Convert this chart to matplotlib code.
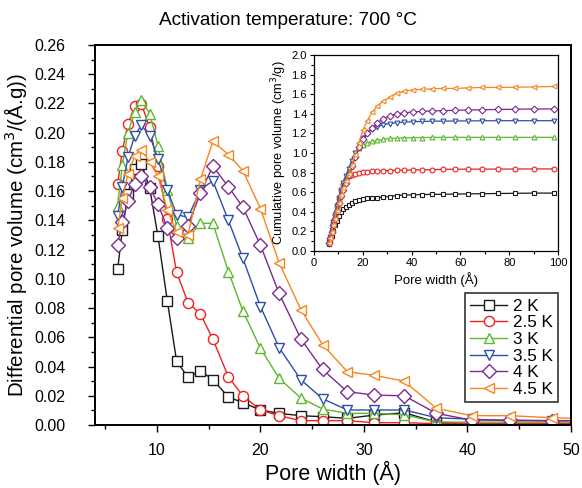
import matplotlib
matplotlib.use("Agg")
import matplotlib.pyplot as plt
from matplotlib.ticker import MultipleLocator

plt.rcParams['font.family'] = ['Liberation Sans', 'DejaVu Sans']

# pore width grid (A)
width = [6.2, 6.65, 7.2, 7.85, 8.5, 9.3, 10.1, 11.0, 11.9, 13.0, 14.2, 15.4, 16.9, 18.3,
         20.0, 21.8, 23.9, 26.0, 28.4, 31.0, 33.9, 37.0, 40.4, 44.1, 48.2, 52.7, 57.7,
         63.1, 69.0, 75.2, 82.4, 90.0, 98.4]

labels = ["2 K", "2.5 K", "3 K", "3.5 K", "4 K", "4.5 K"]
colors = ["#1a1a1a", "#f02020", "#5cb82e", "#2e4fa8", "#7d2a90", "#f7851e"]
markers = ["s", "o", "^", "v", "D", "<"]

# differential pore volume (cm3/(A.g)), main plot
dv_2k = [0.1065, 0.1334, 0.158, 0.175, 0.1786, 0.162, 0.129, 0.085, 0.0436, 0.0326, 0.0372,
         0.031, 0.0192, 0.0153, 0.0103, 0.008, 0.0064, 0.0057, 0.0046, 0.0068, 0.0084,
         0.002, 0.001, 0.001, 0.001, 0.001]
dv_25k = [0.165, 0.1875, 0.206, 0.218, 0.2194, 0.2037, 0.177, 0.1407, 0.1045, 0.0837, 0.076,
          0.0588, 0.033, 0.020, 0.0103, 0.0064, 0.003, 0.003, 0.003, 0.0016, 0.0016,
          0.001, 0.001, 0.001, 0.001, 0.001]
dv_3k = [0.150, 0.178, 0.200, 0.214, 0.222, 0.213, 0.191, 0.161, 0.136, 0.128, 0.138,
         0.138, 0.105, 0.078, 0.0525, 0.032, 0.0185, 0.011, 0.008, 0.008, 0.007,
         0.002, 0.002, 0.002, 0.002, 0.002]
dv_35k = [0.143, 0.163, 0.183, 0.198, 0.205, 0.198, 0.182, 0.161, 0.144, 0.142, 0.161,
          0.167, 0.140, 0.114, 0.081, 0.053, 0.031, 0.018, 0.0103, 0.0103, 0.0103,
          0.005, 0.004, 0.003, 0.003, 0.003]
dv_4k = [0.123, 0.139, 0.153, 0.165, 0.170, 0.163, 0.151, 0.135, 0.128, 0.136, 0.159,
         0.177, 0.163, 0.149, 0.123, 0.090, 0.059, 0.038, 0.0228, 0.0205, 0.020,
         0.008, 0.0034, 0.0034, 0.003, 0.003]
dv_45k = [0.1345, 0.155, 0.172, 0.184, 0.188, 0.180, 0.170, 0.147, 0.132, 0.130, 0.168,
          0.194, 0.185, 0.174, 0.148, 0.111, 0.079, 0.055, 0.0365, 0.034, 0.030,
          0.0114, 0.0064, 0.0064, 0.005, 0.004]

# cumulative pore volume (cm3/g), inset
cv_2k = [0.065, 0.10, 0.15, 0.20, 0.26, 0.31, 0.36, 0.40, 0.43, 0.45, 0.47, 0.49, 0.505,
         0.515, 0.525, 0.535, 0.54, 0.545, 0.55, 0.555, 0.565, 0.57, 0.572, 0.575, 0.577,
         0.578, 0.58, 0.582, 0.584, 0.586, 0.588, 0.59, 0.59]
cv_25k = [0.08, 0.13, 0.20, 0.28, 0.37, 0.46, 0.54, 0.62, 0.68, 0.73, 0.76, 0.78, 0.79,
          0.80, 0.805, 0.81, 0.815, 0.815, 0.82, 0.82, 0.825, 0.825, 0.827, 0.828, 0.83,
          0.833, 0.834, 0.835, 0.835, 0.836, 0.836, 0.837, 0.837]
cv_3k = [0.09, 0.14, 0.21, 0.29, 0.37, 0.46, 0.54, 0.62, 0.69, 0.76, 0.84, 0.91, 0.99,
         1.05, 1.08, 1.10, 1.12, 1.13, 1.14, 1.15, 1.15, 1.155, 1.157, 1.158, 1.16,
         1.16, 1.16, 1.16, 1.16, 1.16, 1.16, 1.16, 1.16]
cv_35k = [0.09, 0.14, 0.21, 0.29, 0.37, 0.46, 0.54, 0.62, 0.69, 0.76, 0.84, 0.92, 1.00,
          1.08, 1.15, 1.20, 1.25, 1.27, 1.29, 1.30, 1.31, 1.315, 1.32, 1.322, 1.325,
          1.326, 1.327, 1.328, 1.329, 1.33, 1.33, 1.33, 1.33]
cv_4k = [0.08, 0.13, 0.19, 0.26, 0.33, 0.41, 0.49, 0.56, 0.62, 0.69, 0.78, 0.87, 0.96,
         1.06, 1.14, 1.20, 1.26, 1.31, 1.35, 1.38, 1.40, 1.41, 1.42, 1.425, 1.43,
         1.433, 1.436, 1.44, 1.442, 1.445, 1.447, 1.45, 1.45]
cv_45k = [0.08, 0.13, 0.19, 0.26, 0.33, 0.41, 0.49, 0.57, 0.64, 0.71, 0.79, 0.88, 0.98,
          1.10, 1.23, 1.33, 1.42, 1.48, 1.53, 1.57, 1.61, 1.63, 1.645, 1.65, 1.655,
          1.66, 1.66, 1.665, 1.67, 1.67, 1.672, 1.675, 1.68]

dv_all = [dv_2k, dv_25k, dv_3k, dv_35k, dv_4k, dv_45k]
cv_all = [cv_2k, cv_25k, cv_3k, cv_35k, cv_4k, cv_45k]

fig = plt.figure(figsize=(5.82, 4.88), dpi=100)
ax = fig.add_axes([0.163, 0.129, 0.818, 0.779])

for dv, lab, c, m in zip(dv_all, labels, colors, markers):
    ax.plot(width[:len(dv)], dv, color=c, marker=m, markersize=7.3, mfc='white',
            mec=c, mew=1.0, lw=1.0, label=lab)

ax.set_xlim(4, 50)
ax.set_ylim(0, 0.26)
ax.xaxis.set_major_locator(MultipleLocator(10))
ax.xaxis.set_minor_locator(MultipleLocator(5))
ax.yaxis.set_major_locator(MultipleLocator(0.02))
ax.yaxis.set_minor_locator(MultipleLocator(0.01))
ax.yaxis.set_major_formatter(plt.FormatStrFormatter('%.2f'))
ax.tick_params(which='both', direction='out', top=False, right=False, labelsize=11.5)
ax.tick_params(axis='y', pad=16)
ax.tick_params(axis='x', pad=8)
ax.tick_params(which='major', length=5, width=1)
ax.tick_params(which='minor', length=3, width=1)
for s in ax.spines.values():
    s.set_linewidth(1.4)
ax.set_xlabel("Pore width (Å)", fontsize=15.5, labelpad=2)
ax.set_ylabel("Differential pore volume (cm$^3$/(Å.g))", fontsize=14.8, labelpad=3)
fig.text(0.495, 0.958, "Activation temperature: 700 °C", fontsize=13.7,
         ha='center', va='center')

leg = ax.legend(loc='lower right', bbox_to_anchor=(0.972, 0.06), fontsize=12.3,
                frameon=True, fancybox=False, edgecolor='black', handlelength=2.2,
                borderpad=0.3, labelspacing=0.1, handletextpad=0.3, borderaxespad=0)
leg.get_frame().set_linewidth(1.2)

# inset: cumulative pore volume
ins = fig.add_axes([0.5395, 0.486, 0.4195, 0.401])
for cv, c, m in zip(cv_all, colors, markers):
    ins.plot(width, cv, color=c, marker=m, markersize=3.5, mfc='white', mec=c,
             mew=0.8, lw=0.9)
ins.set_xlim(0, 100)
ins.set_ylim(0, 2.0)
ins.xaxis.set_major_locator(MultipleLocator(20))
ins.xaxis.set_minor_locator(MultipleLocator(10))
ins.yaxis.set_major_locator(MultipleLocator(0.2))
ins.yaxis.set_minor_locator(MultipleLocator(0.1))
ins.yaxis.set_major_formatter(plt.FormatStrFormatter('%.1f'))
ins.tick_params(which='both', direction='out', top=False, right=False, labelsize=8,
                pad=2)
ins.tick_params(which='major', length=3, width=0.8)
ins.tick_params(which='minor', length=2, width=0.8)
for s in ins.spines.values():
    s.set_linewidth(0.9)
ins.set_xlabel("Pore width (Å)", fontsize=9.5, labelpad=3)
ins.set_ylabel("Cumulative pore volume (cm$^3$/g)", fontsize=9.2, labelpad=2)

fig.savefig("out.png", dpi=100)
